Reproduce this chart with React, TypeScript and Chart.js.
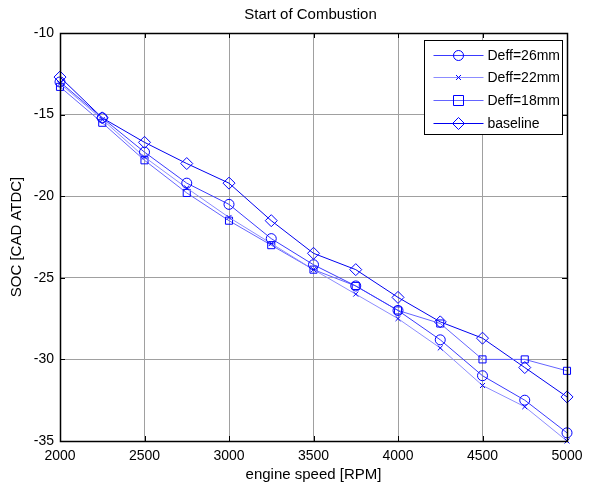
import React, { useEffect, useRef } from "react";
import { Chart, registerables } from "chart.js";
Chart.register(...registerables);

const rpm = [2000, 2250, 2500, 2750, 3000, 3250, 3500, 3750, 4000, 4250, 4500, 4750, 5000];
const deff26 = [-13.0, -15.2, -17.3, -19.2, -20.5, -22.6, -24.2, -25.5, -27.0, -28.8, -31.0, -32.5, -34.5];
const deff22 = [-13.1, -15.3, -17.6, -19.5, -21.3, -22.9, -24.5, -26.0, -27.5, -29.3, -31.6, -32.9, -35.0];
const deff18 = [-13.3, -15.5, -17.8, -19.8, -21.5, -23.0, -24.5, -25.5, -27.0, -27.8, -30.0, -30.0, -30.7];
const baseline = [-12.7, -15.2, -16.7, -18.0, -19.2, -21.5, -23.5, -24.5, -26.2, -27.7, -28.7, -30.5, -32.3];
const seriesLabels = ["Deff=26mm", "Deff=22mm", "Deff=18mm", "baseline"];
const chartTitle = "Start of Combustion";
const xTickValues = [2000, 2500, 3000, 3500, 4000, 4500, 5000];
const yTickValues = [-35, -30, -25, -20, -15, -10];

const FONT = "'Liberation Sans', Arial, sans-serif";
const MARKER = "#0000ff";

function drawMarker(ctx: CanvasRenderingContext2D, style: string, x: number, y: number, r: number, color: string) {
  ctx.save();
  ctx.strokeStyle = color;
  ctx.lineWidth = 1;
  ctx.beginPath();
  if (style === "circle") {
    ctx.arc(x, y, r, 0, Math.PI * 2);
  } else if (style === "rect") {
    ctx.rect(x - r, y - r, 2 * r, 2 * r);
  } else if (style === "rectRot") {
    ctx.moveTo(x, y - r);
    ctx.lineTo(x + r, y);
    ctx.lineTo(x, y + r);
    ctx.lineTo(x - r, y);
    ctx.closePath();
  } else if (style === "crossRot") {
    const d = r * 0.7071;
    ctx.moveTo(x - d, y - d);
    ctx.lineTo(x + d, y + d);
    ctx.moveTo(x + d, y - d);
    ctx.lineTo(x - d, y + d);
  }
  ctx.stroke();
  ctx.restore();
}

const framePlugin = {
  id: "matlabFrame",
  afterDatasetsDraw(chart: any) {
    const { ctx, chartArea } = chart;
    const { left, right, top, bottom } = chartArea;
    const xs = chart.scales.x;
    const ys = chart.scales.y;
    ctx.save();
    ctx.strokeStyle = "#000";
    ctx.lineWidth = 1;
    ctx.beginPath();
    for (const v of xTickValues) {
      const px = Math.round(xs.getPixelForValue(v)) + 0.5;
      ctx.moveTo(px, bottom);
      ctx.lineTo(px, bottom - 5);
      ctx.moveTo(px, top);
      ctx.lineTo(px, top + 5);
    }
    for (const v of yTickValues) {
      const py = Math.round(ys.getPixelForValue(v)) + 0.5;
      ctx.moveTo(left, py);
      ctx.lineTo(left + 5, py);
      ctx.moveTo(right, py);
      ctx.lineTo(right - 5, py);
    }
    ctx.stroke();
    ctx.lineWidth = 1.5;
    ctx.strokeRect(Math.round(left) + 0.5, Math.round(top) + 0.5, Math.round(right - left), Math.round(bottom - top));
    ctx.restore();
  },
  afterDraw(chart: any) {
    const { ctx, chartArea } = chart;
    ctx.save();
    // title centred over the plot area
    ctx.fillStyle = "#000";
    ctx.font = `15px ${FONT}`;
    ctx.textAlign = "center";
    ctx.textBaseline = "middle";
    ctx.fillText(chartTitle, (chartArea.left + chartArea.right) / 2 - 3, 15);

    const lw = 138;
    const lh = 94;
    const lx = Math.round(chartArea.right - 143) + 0.5;
    const ly = Math.round(chartArea.top + 7) + 0.5;
    ctx.fillStyle = "#fff";
    ctx.fillRect(lx, ly, lw, lh);
    ctx.strokeStyle = "#000";
    ctx.lineWidth = 1;
    ctx.strokeRect(lx, ly, lw, lh);
    chart.data.datasets.forEach((ds: any, i: number) => {
      const y = Math.round(ly + 14 + i * 22.7) + 0.5;
      ctx.strokeStyle = ds.borderColor;
      ctx.lineWidth = ds.borderWidth;
      ctx.beginPath();
      ctx.moveTo(lx + 9, y);
      ctx.lineTo(lx + 59, y);
      ctx.stroke();
      drawMarker(ctx, ds.pointStyle, lx + 34, y, ds.pointRadius, ds.pointBorderColor);
      ctx.fillStyle = "#000";
      ctx.font = `14px ${FONT}`;
      ctx.textBaseline = "middle";
      ctx.textAlign = "left";
      ctx.fillText(ds.label, lx + 63, y + 1);
    });
    ctx.restore();
  },
};

export default function App() {
  const ref = useRef<HTMLCanvasElement>(null);
  useEffect(() => {
    const mk = (label: string, data: number[], color: string, style: string, r: number) => ({
      label,
      data: rpm.map((x, i) => ({ x, y: data[i] })),
      borderColor: color,
      borderWidth: 1,
      pointStyle: style,
      pointRadius: r,
      pointHoverRadius: r,
      pointBorderColor: MARKER,
      pointBackgroundColor: "rgba(0,0,0,0)",
      pointBorderWidth: 1,
      showLine: true,
      fill: false,
      tension: 0,
      clip: 8,
    });
    const chart = new Chart(ref.current!, {
      type: "scatter",
      data: {
        datasets: [
          mk(seriesLabels[0], deff26, "#3a3aff", "circle", 5),
          mk(seriesLabels[1], deff22, "#8c8cff", "crossRot", 3.5),
          mk(seriesLabels[2], deff18, "#6464ff", "rect", 5),
          mk(seriesLabels[3], baseline, "#0000f0", "rectRot", 6),
        ],
      },
      options: {
        responsive: false,
        animation: false,
        events: [],
        layout: { padding: { left: 0, right: 30, top: 33, bottom: 0 } },
        plugins: {
          legend: { display: false },
          tooltip: { enabled: false },
          title: { display: false },
        },
        scales: {
          x: {
            type: "linear",
            min: 2000,
            max: 5000,
            afterFit: (s: any) => { s.height = 43; },
            ticks: {
              stepSize: 500,
              color: "#000",
              font: { family: FONT, size: 14 },
              padding: 7,
              maxRotation: 0,
              callback: (v: any) => String(v),
            },
            grid: { color: "#a0a0a0", drawTicks: false },
            border: { display: false },
            title: {
              display: true,
              text: "engine speed [RPM]",
              color: "#000",
              font: { family: FONT, size: 15 },
              padding: { top: 0, bottom: 0 },
            },
          },
          y: {
            type: "linear",
            min: -35,
            max: -10,
            afterFit: (s: any) => { s.width = 60; },
            ticks: {
              stepSize: 5,
              color: "#000",
              font: { family: FONT, size: 14 },
              padding: 6,
              callback: (v: any) => String(v),
            },
            grid: { color: "#a0a0a0", drawTicks: false },
            border: { display: false },
            title: {
              display: true,
              text: "SOC [CAD ATDC]",
              color: "#000",
              font: { family: FONT, size: 15 },
              padding: { top: 8, bottom: 0 },
            },
          },
        },
      },
      plugins: [framePlugin],
    } as any);
    return () => chart.destroy();
  }, []);
  return (
    <div style={{ position: "absolute", left: 0, top: 0, width: 597, height: 484, background: "#fff" }}>
      <canvas ref={ref} width={597} height={484} style={{ display: "block" }} />
    </div>
  );
}
